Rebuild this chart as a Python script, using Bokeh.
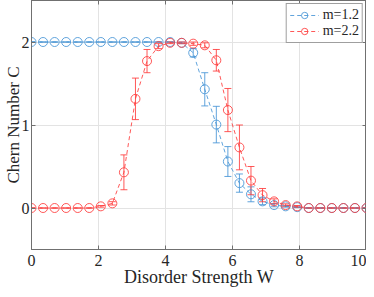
import numpy as np
from bokeh.plotting import figure
from bokeh.models import (Range1d, LinearAxis, FixedTicker, Legend, LegendItem,
                          ColumnDataSource, Whisker, TeeHead)
from bokeh.embed import file_html
from bokeh.resources import INLINE

# ---- data ----
W = [i * 10 / 29 for i in range(30)]
C_m12 = [2.0, 2.0, 2.0, 2.0, 2.0, 2.0, 2.0, 2.0, 2.0, 2.0, 2.0, 2.0, 2.0, 1.99,
         1.87, 1.43, 1.005, 0.56, 0.30, 0.165, 0.08, 0.035, 0.02, 0.01,
         0.0, 0.0, 0.0, 0.0, 0.0, 0.0]
E_m12 = [0.0, 0.0, 0.0, 0.0, 0.0, 0.0, 0.0, 0.0, 0.0, 0.0, 0.0, 0.0, 0.0, 0.01,
         0.05, 0.20, 0.22, 0.18, 0.11, 0.09, 0.04, 0.02, 0.01, 0.005,
         0.0, 0.0, 0.0, 0.0, 0.0, 0.0]
C_m22 = [0.0, 0.0, 0.0, 0.0, 0.0, 0.0, 0.02, 0.056, 0.43, 1.315, 1.77, 1.95,
         1.99, 1.99, 1.98, 1.96, 1.78, 1.18, 0.73, 0.33, 0.155, 0.08, 0.035,
         0.02, 0.0, 0.0, 0.0, 0.0, 0.0, 0.0]
E_m22 = [0.0, 0.0, 0.0, 0.0, 0.0, 0.0, 0.01, 0.02, 0.21, 0.25, 0.14, 0.03,
         0.01, 0.01, 0.02, 0.03, 0.13, 0.26, 0.27, 0.17, 0.08, 0.03, 0.015,
         0.01, 0.0, 0.0, 0.0, 0.0, 0.0, 0.0]
x_ticks = [0, 2, 4, 6, 8, 10]
y_ticks = [0, 1, 2]
labels = ["m=1.2", "m=2.2"]
colors = ["#4594D6", "#FF3B3B"]

FONT = "Liberation Serif"

p = figure(width=366, height=289, output_backend="svg", toolbar_location=None,
           x_range=Range1d(0, 10), y_range=Range1d(-0.5, 2.5),
           min_border_left=0, min_border_right=0, min_border_top=0,
           min_border_bottom=0)
p.background_fill_color = "white"
p.outline_line_color = "#707070"
p.outline_line_width = 1

for ax in (p.xaxis[0], p.yaxis[0]):
    ax.major_label_text_font = FONT
    ax.major_label_text_font_size = "16px"
    ax.major_label_text_color = "#262626"
    ax.axis_label_text_font = FONT
    ax.axis_label_text_font_size = "17px"
    ax.axis_label_text_font_style = "normal"
    ax.axis_label_text_color = "#262626"
    ax.axis_line_color = "#707070"
    ax.major_tick_line_color = "#707070"
    ax.major_tick_in = 4
    ax.major_tick_out = 0
    ax.minor_tick_line_color = None

p.xaxis[0].ticker = FixedTicker(ticks=x_ticks)
p.yaxis[0].ticker = FixedTicker(ticks=y_ticks)
p.xaxis[0].axis_label = "Disorder Strength W"
p.yaxis[0].axis_label = "Chern Number C"
p.xaxis[0].axis_label_text_font_size = "18px"
p.xaxis[0].major_label_standoff = 5
p.xaxis[0].axis_label_standoff = -2
p.yaxis[0].major_label_standoff = 2
p.yaxis[0].axis_label_standoff = -4

# extra axes for the box ticks (no labels)
for loc, tick_list in (("right", y_ticks), ("above", x_ticks)):
    ax = LinearAxis(ticker=FixedTicker(ticks=tick_list))
    ax.major_label_overrides = {t: "" for t in tick_list}
    ax.major_label_standoff = 0
    ax.axis_label_standoff = 0
    ax.axis_line_color = "#707070"
    ax.major_tick_line_color = "#707070"
    ax.major_tick_in = 4
    ax.major_tick_out = 0
    ax.minor_tick_line_color = None
    p.add_layout(ax, loc)

p.xgrid.ticker = FixedTicker(ticks=x_ticks)
p.ygrid.ticker = FixedTicker(ticks=y_ticks)
p.grid.grid_line_color = "#E3E3E3"
p.grid.grid_line_width = 1

items = []
for C, E, col, lab in ((C_m12, E_m12, colors[0], labels[0]),
                       (C_m22, E_m22, colors[1], labels[1])):
    src = ColumnDataSource(dict(x=W, y=C,
                                lo=[c - e for c, e in zip(C, E)],
                                hi=[c + e for c, e in zip(C, E)]))
    ln = p.line("x", "y", source=src, line_color=col, line_dash="4 3",
                line_width=1, line_alpha=0.85)
    wh = Whisker(source=src, base="x", lower="lo", upper="hi",
                 line_color=col, line_alpha=0.85, line_width=1,
                 upper_head=TeeHead(size=7, line_color=col, line_alpha=0.85),
                 lower_head=TeeHead(size=7, line_color=col, line_alpha=0.85))
    p.add_layout(wh)
    sc = p.scatter("x", "y", source=src, marker="circle", size=9,
                   line_color=col, line_alpha=0.85, fill_color=None,
                   line_width=1)
    items.append(LegendItem(label=lab, renderers=[ln, sc]))

legend = Legend(items=items, location="top_right")
legend.label_text_font = FONT
legend.label_text_font_size = "14px"
legend.label_text_color = "#262626"
legend.border_line_color = "#404040"
legend.border_line_width = 1
legend.background_fill_alpha = 1
legend.margin = 3
legend.padding = 3
legend.spacing = 0
legend.glyph_width = 29
legend.glyph_height = 16
legend.label_height = 16
legend.label_standoff = 4
p.add_layout(legend)

open("out.html", "w").write(file_html(p, INLINE))
